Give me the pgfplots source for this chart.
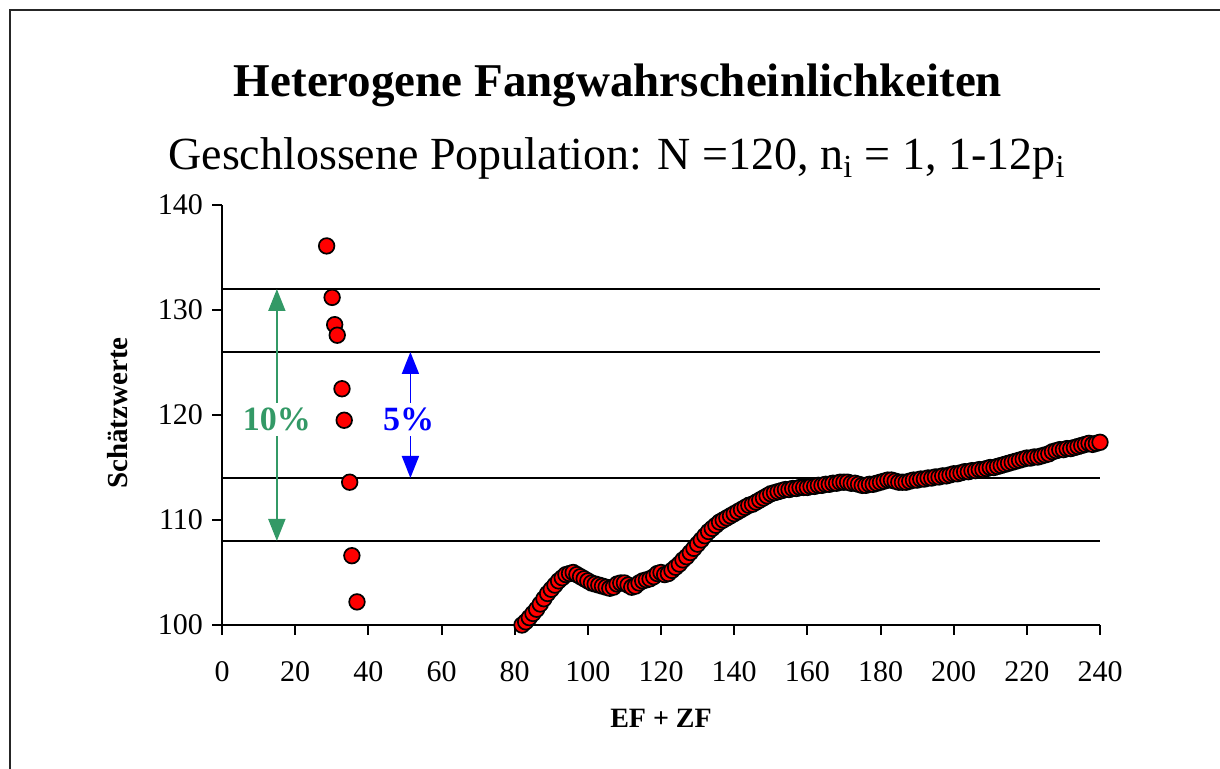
\documentclass[border=0pt]{standalone}
\usepackage{pgfplots}
\pgfplotsset{compat=1.18}
\usepackage{fontspec}
\setmainfont{Liberation Serif}
\usetikzlibrary{arrows.meta}
\definecolor{sgreen}{RGB}{51,153,102}
\begin{document}
\begin{tikzpicture}
\useasboundingbox (0,0) rectangle (610pt,384.5pt);
\draw[line width=0.75pt, black!85] (5pt,-2pt) -- (5pt,379.5pt) -- (612pt,379.5pt);
\begin{axis}[
  at={(111pt,72pt)}, anchor=south west,
  scale only axis, width=439pt, height=210pt,
  xmin=0, xmax=240, ymin=100, ymax=140,
  axis x line=bottom, axis y line=left,
  axis line style={-, line width=1pt},
  xtick={0,20,...,240}, ytick={100,110,...,140},
  tick align=outside, major tick length=5pt,
  tick style={line width=1pt, black},
  /pgf/number format/assume math mode=true,
  ticklabel style={font=\fontsize{15}{17}\selectfont},
  xticklabel style={yshift=-9.5pt},
  yticklabel style={xshift=-1pt},
  clip=false,
]
\addplot[black, line width=1pt] coordinates {(0,132) (240,132)};
\addplot[black, line width=1pt] coordinates {(0,126) (240,126)};
\addplot[black, line width=1pt] coordinates {(0,114) (240,114)};
\addplot[black, line width=1pt] coordinates {(0,108) (240,108)};
\draw[sgreen, line width=0.9pt, {Triangle[length=11pt,width=8.5pt]}-{Triangle[length=11pt,width=8.5pt]}] (axis cs:15,132) -- (axis cs:15,108);
\node[fill=white, text=sgreen, font=\fontsize{17}{20}\selectfont\bfseries, inner sep=2.5pt] at (axis cs:15,119.6) {10\%};
\draw[blue, line width=0.9pt, {Triangle[length=11pt,width=8.5pt]}-{Triangle[length=11pt,width=8.5pt]}] (axis cs:51.5,126) -- (axis cs:51.5,114);
\node[fill=white, text=blue, font=\fontsize{17}{20}\selectfont\bfseries, inner sep=2.5pt] at (axis cs:51,119.6) {5\%};
\addplot[only marks, mark=*, mark size=3.9pt, mark options={fill=red, draw=black, line width=0.85pt}] table {
x y
28.6 136.1
30.1 131.2
30.8 128.6
31.5 127.6
32.8 122.5
33.4 119.5
34.9 113.6
35.5 106.6
36.9 102.2
82 100.0
83 100.3
84 100.7
85 101.1
86 101.5
87 102.0
88 102.5
89 103.0
90 103.4
91 103.8
92 104.2
93 104.5
94 104.8
95 104.9
96 105.0
97 104.8
98 104.6
99 104.4
100 104.2
101 104.0
102 103.9
103 103.8
104 103.7
105 103.6
106 103.5
107 103.6
108 103.9
109 104.0
110 104.0
111 103.8
112 103.6
113 103.7
114 104.0
115 104.2
116 104.3
117 104.4
118 104.6
119 104.9
120 105.0
121 104.8
122 104.9
123 105.2
124 105.5
125 105.8
126 106.2
127 106.5
128 106.9
129 107.3
130 107.7
131 108.1
132 108.5
133 108.9
134 109.2
135 109.5
136 109.8
137 110.0
138 110.2
139 110.4
140 110.6
141 110.8
142 111.0
143 111.2
144 111.4
145 111.5
146 111.7
147 111.9
148 112.1
149 112.3
150 112.5
151 112.6
152 112.7
153 112.8
154 112.9
155 112.9
156 113.0
157 113.0
158 113.1
159 113.1
160 113.1
161 113.2
162 113.2
163 113.3
164 113.3
165 113.4
166 113.4
167 113.5
168 113.5
169 113.6
170 113.6
171 113.6
172 113.5
173 113.5
174 113.4
175 113.3
176 113.3
177 113.4
178 113.4
179 113.5
180 113.6
181 113.7
182 113.8
183 113.8
184 113.7
185 113.6
186 113.6
187 113.6
188 113.7
189 113.8
190 113.8
191 113.9
192 113.9
193 114.0
194 114.0
195 114.1
196 114.1
197 114.2
198 114.2
199 114.3
200 114.4
201 114.4
202 114.5
203 114.6
204 114.6
205 114.7
206 114.7
207 114.8
208 114.8
209 114.9
210 115.0
211 115.0
212 115.1
213 115.2
214 115.3
215 115.4
216 115.5
217 115.6
218 115.7
219 115.8
220 115.9
221 115.9
222 116.0
223 116.0
224 116.1
225 116.2
226 116.3
227 116.5
228 116.6
229 116.7
230 116.7
231 116.8
232 116.8
233 116.9
234 117.0
235 117.1
236 117.2
237 117.3
238 117.2
239 117.3
240 117.4
};
\end{axis}
\node[anchor=base, font=\fontsize{23.5}{28}\selectfont\bfseries] at (309pt,336pt) {Heterogene Fangwahrscheinlichkeiten};
\node[anchor=base, font=\fontsize{23}{28}\selectfont] at (308.5pt,299.5pt) {Geschlossene Population: N =120, n\textsubscript{i} = 1, 1-12p\textsubscript{i}};
\node[font=\fontsize{14}{17}\selectfont\bfseries] at (330.5pt,25.5pt) {EF + ZF};
\node[rotate=90, font=\fontsize{14.5}{17}\selectfont\bfseries] at (59pt,178pt) {Schätzwerte};
\end{tikzpicture}
\end{document}
